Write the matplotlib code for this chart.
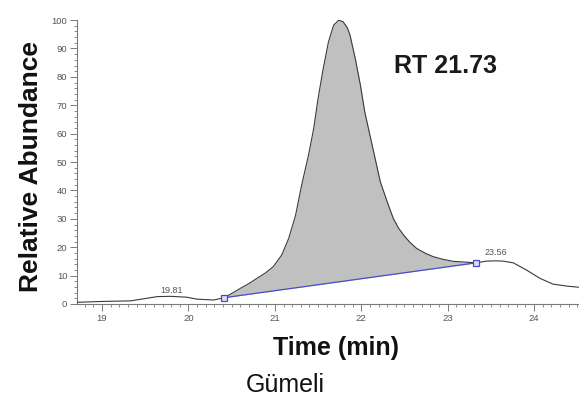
"""
Chromatogram: Gümeli sample, integrated peak at RT 21.73 min.
"""

import matplotlib
matplotlib.use('Agg')
import matplotlib.pyplot as plt
from matplotlib.ticker import MultipleLocator

# === DATA ===
time_min = [18.71, 19.00, 19.33, 19.64, 19.79, 19.98, 20.10, 20.29, 20.41,
            20.50, 20.60, 20.70, 20.79, 20.89, 20.98, 21.08, 21.16, 21.24,
            21.31, 21.39, 21.45, 21.50, 21.56, 21.62, 21.68, 21.74, 21.79,
            21.84, 21.87, 21.93, 21.99, 22.04, 22.10, 22.16, 22.22, 22.30,
            22.37, 22.43, 22.49, 22.56, 22.64, 22.74, 22.83, 22.95, 23.07,
            23.18, 23.33, 23.45, 23.56, 23.64, 23.76, 23.91, 24.07, 24.22,
            24.38, 24.52]
abundance = [0.6, 0.9, 1.1, 2.6, 2.7, 2.4, 1.7, 1.4, 2.2,
             3.7, 5.5, 7.2, 9.0, 10.9, 13.1, 17.3, 23.1, 31.3,
             41.9, 52.5, 61.9, 72.4, 83.0, 92.3, 98.2, 100.0, 99.4,
             97.2, 94.7, 86.5, 77.1, 67.7, 59.5, 51.3, 43.1, 36.0,
             30.2, 26.8, 24.3, 21.8, 19.6, 17.9, 16.7, 15.7, 15.0,
             14.8, 14.5, 15.1, 15.2, 15.1, 14.5, 12.0, 9.0, 7.0,
             6.3, 5.9]

base_time = [20.41, 23.33]
base_abund = [2.2, 14.5]

peak_labels = ['19.81', '23.56']
peak_label_time = [19.81, 23.56]
peak_label_abund = [4.8, 18.0]

x_ticks = [19, 20, 21, 22, 23, 24]
y_ticks = [0, 10, 20, 30, 40, 50, 60, 70, 80, 90, 100]

AXIS_GREY = '#7a7a7a'
TEXT_GREY = '#555555'

plt.rcParams['font.family'] = ['Liberation Sans', 'DejaVu Sans']

fig = plt.figure(figsize=(5.79, 4.01), dpi=100)
ax = fig.add_axes([0.133, 0.2419, 0.867, 0.708])

# trace
ax.plot(time_min, abundance, color='#3a3a3a', linewidth=0.8, zorder=3,
        solid_joinstyle='round')

# integrated area between trace and baseline
t0, t1 = base_time
pk_t = [t for t in time_min if t0 <= t <= t1]
pk_a = [a for t, a in zip(time_min, abundance) if t0 <= t <= t1]
slope = (base_abund[1] - base_abund[0]) / (t1 - t0)
pk_b = [base_abund[0] + slope * (t - t0) for t in pk_t]
ax.fill_between(pk_t, pk_b, pk_a, color='#c0c0c0', linewidth=0, zorder=2)

# baseline with anchor markers
ax.plot(base_time, base_abund, color='#4a4ad0', linewidth=0.9, zorder=4,
        marker='s', markersize=5, markerfacecolor='#dcdcf4',
        markeredgecolor='#4a4ad0', markeredgewidth=0.9)

for lab, t, a in zip(peak_labels, peak_label_time, peak_label_abund):
    ax.text(t, a, lab, fontsize=6.5, color=TEXT_GREY, ha='center', va='center')

ax.text(0.735, 0.838, 'RT 21.73', transform=ax.transAxes, fontsize=18,
        fontweight='bold', color='#1a1a1a', ha='center', va='center')

# === AXES ===
ax.set_xlim(18.71, 24.52)
ax.set_ylim(0, 100)
ax.set_xticks(x_ticks)
ax.set_yticks(y_ticks)
ax.xaxis.set_minor_locator(MultipleLocator(0.1))
ax.yaxis.set_minor_locator(MultipleLocator(2))
ax.tick_params(which='major', length=5, width=0.7, colors=AXIS_GREY,
               labelsize=6.8, labelcolor=TEXT_GREY, pad=2)
ax.tick_params(which='minor', length=2.5, width=0.6, colors=AXIS_GREY)
ax.spines[['top', 'right']].set_visible(False)
ax.spines['left'].set_color(AXIS_GREY)
ax.spines['bottom'].set_color(AXIS_GREY)

fig.text(0.054, 0.585, 'Relative Abundance', rotation=90, fontsize=19,
         fontweight='bold', color='#111111', ha='center', va='center')
fig.text(0.581, 0.132, 'Time (min)', fontsize=18, fontweight='bold',
         color='#111111', ha='center', va='center')
fig.text(0.493, 0.040, 'Gümeli', fontsize=18, color='#111111',
         ha='center', va='center')

fig.savefig('out.png', dpi=100, facecolor='white')
plt.close(fig)
